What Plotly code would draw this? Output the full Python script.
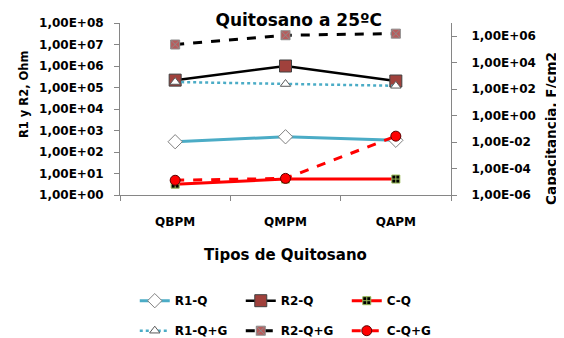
import plotly.graph_objects as go

categories = ["QBPM", "QMPM", "QAPM"]

r1_q = [300, 510, 350]
r2_q = [2.2e5, 1.0e6, 2.0e5]
c_q = [6.6e-6, 1.6e-5, 1.6e-5]

r1_qg = [1.8e5, 1.45e5, 1.2e5]
r2_qg = [1.0e7, 2.7e7, 3.2e7]
c_qg = [1.3e-5, 1.8e-5, 2.8e-2]

left_ticks = [1e0, 1e1, 1e2, 1e3, 1e4, 1e5, 1e6, 1e7, 1e8]
left_labels = ["1,00E+00", "1,00E+01", "1,00E+02", "1,00E+03", "1,00E+04",
               "1,00E+05", "1,00E+06", "1,00E+07", "1,00E+08"]
right_ticks = [1e-6, 1e-4, 1e-2, 1e0, 1e2, 1e4, 1e6]
right_labels = ["1,00E-06", "1,00E-04", "1,00E-02", "1,00E+00",
                "1,00E+02", "1,00E+04", "1,00E+06"]

FONT = "DejaVu Sans"
AX = "#868686"

# The page body has an 8px default margin; the figure is sized to fill the rest of the window.
W, H = 556, 330

fig = go.Figure()

fig.add_trace(go.Scatter(
    x=categories, y=r1_q, name="R1-Q", mode="lines+markers",
    line=dict(color="#4BACC6", width=3),
    marker=dict(symbol="diamond", size=11, color="white", line=dict(color="#7F7F7F", width=1)),
    legend="legend"))
fig.add_trace(go.Scatter(
    x=categories, y=r2_q, name="R2-Q", mode="lines+markers",
    line=dict(color="black", width=2.5),
    marker=dict(symbol="square", size=12, color="#A0413C", line=dict(color="#404040", width=1)),
    legend="legend"))
fig.add_trace(go.Scatter(
    x=categories, y=r1_qg, name="R1-Q+G", mode="lines+markers",
    line=dict(color="#4BACC6", width=2.5, dash="dot"),
    marker=dict(symbol="triangle-up", size=9, color="white", line=dict(color="#595959", width=1)),
    legend="legend2"))
fig.add_trace(go.Scatter(
    x=categories, y=r2_qg, name="R2-Q+G", mode="lines+markers",
    line=dict(color="black", width=3, dash="dash"),
    marker=dict(symbol="square-x", size=9, color="#B85C5C", line=dict(color="#8C8C8C", width=1)),
    legend="legend2"))
fig.add_trace(go.Scatter(
    x=categories, y=c_q, name="C-Q", mode="lines+markers", yaxis="y2",
    line=dict(color="#FF0000", width=3),
    marker=dict(symbol="square-cross", size=8, color="black", line=dict(color="#9BBB59", width=1)),
    legend="legend"))
fig.add_trace(go.Scatter(
    x=categories, y=c_qg, name="C-Q+G", mode="lines+markers", yaxis="y2",
    line=dict(color="#FF0000", width=3, dash="dash"),
    marker=dict(symbol="circle", size=10, color="#FF0000", line=dict(color="#5A0000", width=1)),
    legend="legend2"))

legend_common = dict(orientation="h", xref="container", yref="container",
                     x=0.228, xanchor="left", yanchor="middle",
                     entrywidth=61, font=dict(family=FONT, size=12, weight="bold"),
                     bgcolor="rgba(0,0,0,0)", tracegroupgap=0)

fig.update_layout(
    width=W, height=H,
    margin=dict(l=112, r=113, t=14.5, b=142.5, autoexpand=False),
    paper_bgcolor="white", plot_bgcolor="white",
    font=dict(family=FONT, size=12, color="black"),
    title=dict(text="<b>Quitosano a 25ºC</b>", font=dict(family=FONT, size=17, color="black"),
               x=0.523, xanchor="center", y=1 - 12 / H, yanchor="middle",
               yref="container", xref="container"),
    xaxis=dict(
        type="category", showgrid=False, showline=True, linecolor=AX, linewidth=1,
        automargin=False,
        ticks="outside", tickson="boundaries", ticklen=5, tickcolor=AX,
        tickfont=dict(family=FONT, size=12, color="black", weight="bold"),
        ticklabelstandoff=16,
        title=dict(text="<b>Tipos de Quitosano</b>", font=dict(family=FONT, size=15), standoff=21),
        range=[-0.5, 2.5]),
    yaxis=dict(
        type="log", range=[0, 8], showgrid=False, showline=True, linecolor=AX, linewidth=1,
        automargin=False,
        ticks="outside", ticklen=5, tickcolor=AX,
        tickvals=left_ticks, ticktext=left_labels,
        tickfont=dict(family=FONT, size=12, color="black", weight="bold"),
        ticklabelstandoff=8),
    yaxis2=dict(
        type="log", range=[-6, 7], overlaying="y", side="right", showgrid=False,
        showline=True, linecolor=AX, linewidth=1, automargin=False,
        ticks="outside", ticklen=5, tickcolor=AX,
        tickvals=right_ticks, ticktext=right_labels,
        tickfont=dict(family=FONT, size=12, color="black", weight="bold"),
        ticklabelstandoff=12),
    annotations=[
        dict(text="<b>R1 y R2, Ohm</b>", textangle=-90, xref="paper", yref="paper",
             x=(16 - 112) / 331, y=(187.5 - 86) / 173, xanchor="center", yanchor="middle",
             showarrow=False, font=dict(family=FONT, size=11.5, color="black")),
        dict(text="<b>Capacitancia, F/cm2</b>", textangle=-90, xref="paper", yref="paper",
             x=(543 - 112) / 331, y=(187.5 - 121) / 173, xanchor="center", yanchor="middle",
             showarrow=False, font=dict(family=FONT, size=13.5, color="black")),
    ],
    legend=dict(legend_common, y=1 - 292.7 / H),
    legend2=dict(legend_common, y=1 - 322.7 / H),
)

fig.write_html("out.html")
